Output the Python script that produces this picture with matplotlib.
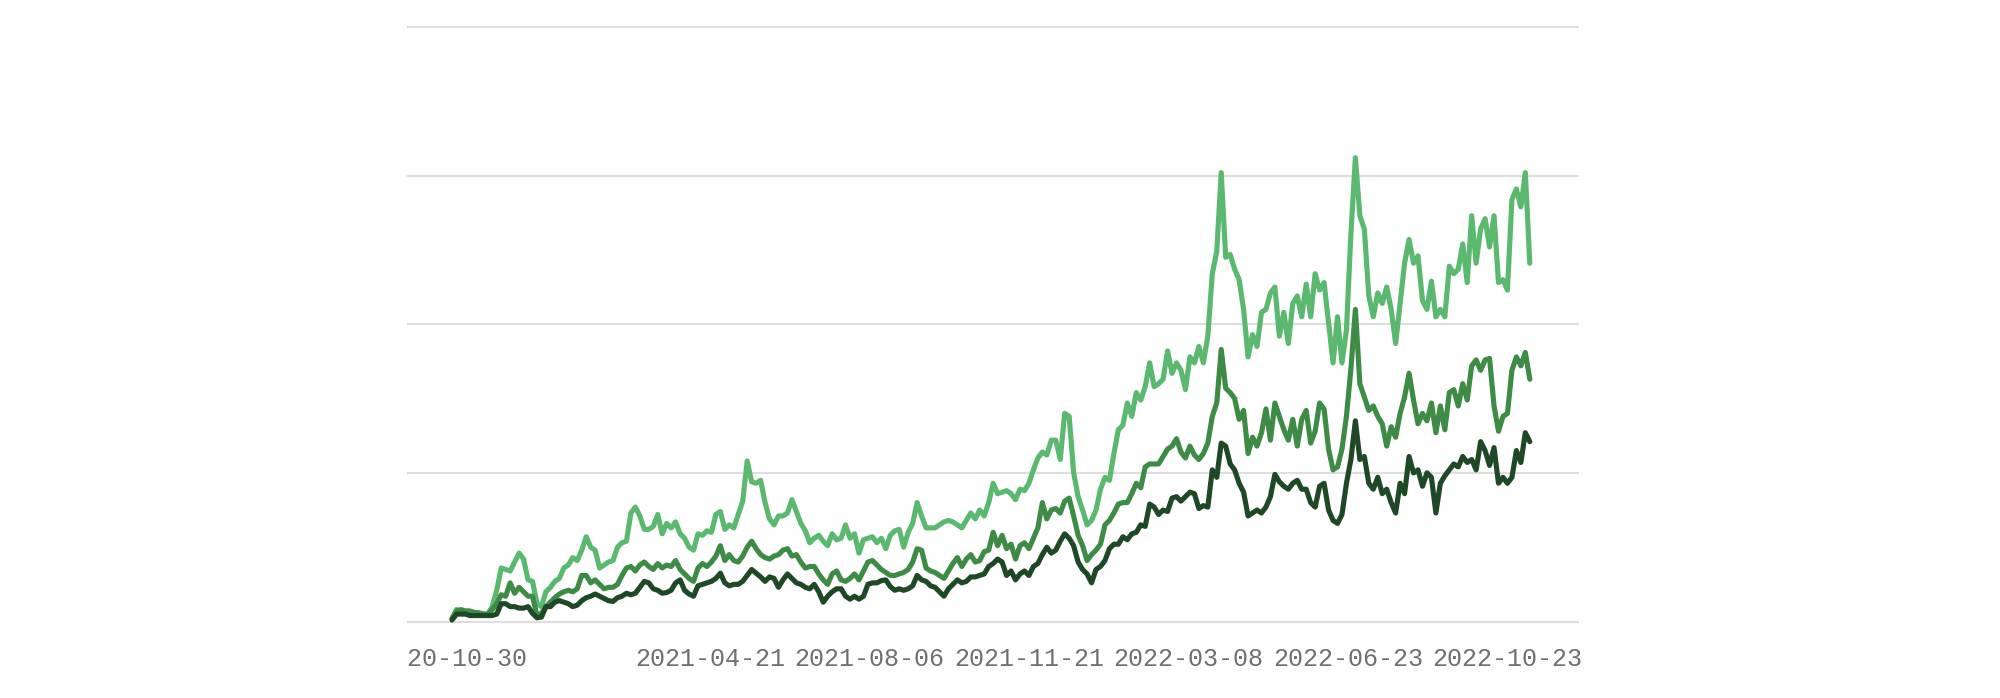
#import packages
import numpy as np
import pandas as pd
import matplotlib
matplotlib.use('Agg')
import matplotlib.pyplot as plt
import matplotlib.dates as mdates
from matplotlib.transforms import Bbox, TransformedBbox

#dates: one reading every 3 days from the first day, plus the last day
dates = list(pd.date_range('2020-10-30', periods=241, freq='3D')) + [pd.Timestamp('2022-10-23')]

#values (one gridline step = 1)
light = [0.02, 0.08, 0.07, 0.07, 0.07, 0.06, 0.06, 0.05, 0.05, 0.10,
         0.21, 0.36, 0.35, 0.34, 0.40, 0.46, 0.42, 0.28, 0.27, 0.12,
         0.10, 0.20, 0.23, 0.27, 0.29, 0.36, 0.38, 0.43, 0.41, 0.48,
         0.57, 0.50, 0.48, 0.36, 0.38, 0.40, 0.41, 0.50, 0.53, 0.54,
         0.73, 0.77, 0.71, 0.62, 0.62, 0.64, 0.72, 0.59, 0.66, 0.63,
         0.67, 0.59, 0.56, 0.50, 0.48, 0.59, 0.58, 0.61, 0.60, 0.72,
         0.74, 0.62, 0.65, 0.63, 0.72, 0.81, 1.08, 0.94, 0.93, 0.95,
         0.80, 0.69, 0.65, 0.71, 0.71, 0.73, 0.82, 0.74, 0.66, 0.61,
         0.53, 0.56, 0.58, 0.54, 0.51, 0.59, 0.55, 0.56, 0.65, 0.56,
         0.59, 0.46, 0.55, 0.56, 0.57, 0.53, 0.56, 0.49, 0.58, 0.61,
         0.62, 0.50, 0.60, 0.66, 0.80, 0.71, 0.63, 0.63, 0.63, 0.65,
         0.67, 0.68, 0.67, 0.65, 0.63, 0.68, 0.73, 0.69, 0.75, 0.71,
         0.80, 0.93, 0.86, 0.87, 0.88, 0.86, 0.82, 0.89, 0.88, 0.93,
         1.02, 1.10, 1.14, 1.12, 1.22, 1.22, 1.09, 1.40, 1.38, 1.00,
         0.84, 0.75, 0.65, 0.68, 0.75, 0.89, 0.97, 0.95, 1.13, 1.29,
         1.32, 1.47, 1.38, 1.54, 1.49, 1.58, 1.74, 1.58, 1.60, 1.63,
         1.82, 1.67, 1.74, 1.69, 1.56, 1.78, 1.74, 1.85, 1.74, 1.92,
         2.34, 2.49, 3.02, 2.45, 2.47, 2.37, 2.30, 2.10, 1.78, 1.93,
         1.85, 2.08, 2.10, 2.21, 2.25, 1.92, 2.08, 1.87, 2.14, 2.19,
         2.05, 2.27, 2.05, 2.34, 2.23, 2.28, 2.01, 1.74, 2.05, 1.74,
         1.96, 2.61, 3.12, 2.73, 2.64, 2.19, 2.05, 2.21, 2.14, 2.25,
         2.10, 1.87, 2.14, 2.41, 2.57, 2.41, 2.46, 2.16, 2.10, 2.29,
         2.05, 2.10, 2.05, 2.39, 2.34, 2.37, 2.54, 2.28, 2.73, 2.41,
         2.64, 2.71, 2.52, 2.73, 2.28, 2.30, 2.23, 2.84, 2.91, 2.79,
         3.02, 2.41]
mid = [0.02, 0.07, 0.08, 0.07, 0.07, 0.06, 0.055, 0.05, 0.05, 0.08,
       0.12, 0.18, 0.17, 0.26, 0.19, 0.23, 0.20, 0.17, 0.17, 0.04,
       0.055, 0.10, 0.13, 0.16, 0.185, 0.20, 0.21, 0.20, 0.22, 0.31,
       0.31, 0.26, 0.28, 0.25, 0.22, 0.23, 0.23, 0.25, 0.31, 0.36,
       0.37, 0.34, 0.38, 0.40, 0.37, 0.35, 0.39, 0.36, 0.38, 0.37,
       0.41, 0.35, 0.32, 0.29, 0.27, 0.36, 0.39, 0.37, 0.40, 0.44,
       0.51, 0.41, 0.45, 0.41, 0.40, 0.44, 0.50, 0.54, 0.49, 0.45,
       0.43, 0.42, 0.44, 0.45, 0.48, 0.49, 0.44, 0.45, 0.40, 0.36,
       0.37, 0.37, 0.32, 0.28, 0.25, 0.32, 0.34, 0.28, 0.27, 0.29,
       0.32, 0.28, 0.34, 0.40, 0.41, 0.38, 0.35, 0.33, 0.31, 0.31,
       0.32, 0.33, 0.35, 0.40, 0.49, 0.48, 0.36, 0.34, 0.33, 0.31,
       0.29, 0.34, 0.39, 0.43, 0.37, 0.42, 0.45, 0.40, 0.41, 0.47,
       0.48, 0.60, 0.51, 0.58, 0.49, 0.52, 0.42, 0.51, 0.53, 0.49,
       0.56, 0.63, 0.80, 0.69, 0.75, 0.76, 0.73, 0.81, 0.83, 0.71,
       0.58, 0.51, 0.41, 0.45, 0.48, 0.52, 0.65, 0.68, 0.73, 0.79,
       0.80, 0.80, 0.86, 0.93, 0.90, 1.04, 1.06, 1.06, 1.06, 1.11,
       1.16, 1.18, 1.23, 1.14, 1.10, 1.18, 1.12, 1.09, 1.13, 1.20,
       1.38, 1.47, 1.83, 1.57, 1.54, 1.50, 1.36, 1.42, 1.13, 1.24,
       1.18, 1.27, 1.43, 1.22, 1.47, 1.38, 1.29, 1.22, 1.36, 1.18,
       1.36, 1.42, 1.20, 1.28, 1.47, 1.43, 1.16, 1.02, 1.04, 1.16,
       1.38, 1.70, 2.10, 1.60, 1.51, 1.42, 1.45, 1.38, 1.33, 1.18,
       1.31, 1.24, 1.40, 1.51, 1.67, 1.49, 1.33, 1.40, 1.35, 1.47,
       1.27, 1.45, 1.29, 1.54, 1.56, 1.45, 1.60, 1.49, 1.72, 1.76,
       1.69, 1.76, 1.77, 1.45, 1.28, 1.38, 1.40, 1.69, 1.78, 1.72,
       1.81, 1.63]
dark = [0.01, 0.05, 0.05, 0.05, 0.04, 0.04, 0.04, 0.04, 0.04, 0.04,
        0.05, 0.12, 0.12, 0.10, 0.10, 0.09, 0.09, 0.10, 0.055, 0.025,
        0.03, 0.10, 0.10, 0.13, 0.14, 0.13, 0.12, 0.10, 0.11, 0.14,
        0.16, 0.17, 0.185, 0.17, 0.155, 0.14, 0.135, 0.16, 0.17, 0.19,
        0.18, 0.19, 0.23, 0.27, 0.26, 0.22, 0.21, 0.19, 0.195, 0.21,
        0.26, 0.28, 0.21, 0.185, 0.17, 0.24, 0.25, 0.26, 0.27, 0.29,
        0.325, 0.26, 0.24, 0.25, 0.25, 0.27, 0.31, 0.35, 0.325, 0.30,
        0.27, 0.30, 0.29, 0.23, 0.28, 0.32, 0.29, 0.26, 0.25, 0.23,
        0.22, 0.25, 0.20, 0.13, 0.17, 0.20, 0.22, 0.22, 0.17, 0.15,
        0.17, 0.15, 0.17, 0.25, 0.26, 0.26, 0.275, 0.28, 0.235, 0.21,
        0.22, 0.21, 0.22, 0.24, 0.31, 0.28, 0.27, 0.24, 0.23, 0.20,
        0.17, 0.22, 0.25, 0.28, 0.26, 0.27, 0.30, 0.30, 0.31, 0.32,
        0.37, 0.39, 0.42, 0.40, 0.31, 0.34, 0.28, 0.32, 0.34, 0.31,
        0.37, 0.39, 0.45, 0.50, 0.46, 0.48, 0.54, 0.59, 0.56, 0.51,
        0.40, 0.35, 0.32, 0.26, 0.35, 0.37, 0.41, 0.49, 0.52, 0.52,
        0.57, 0.55, 0.59, 0.60, 0.65, 0.64, 0.79, 0.77, 0.72, 0.75,
        0.74, 0.83, 0.84, 0.81, 0.84, 0.87, 0.86, 0.76, 0.78, 0.77,
        1.02, 0.97, 1.20, 1.18, 1.06, 1.02, 0.93, 0.87, 0.71, 0.73,
        0.75, 0.73, 0.77, 0.84, 0.99, 0.94, 0.91, 0.89, 0.93, 0.95,
        0.89, 0.89, 0.80, 0.77, 0.91, 0.93, 0.75, 0.68, 0.66, 0.72,
        0.93, 1.09, 1.35, 1.09, 1.11, 0.93, 0.89, 0.97, 0.86, 0.89,
        0.80, 0.73, 0.93, 0.86, 1.11, 1.00, 1.02, 0.91, 1.00, 0.97,
        0.73, 0.93, 0.98, 1.02, 1.06, 1.04, 1.11, 1.07, 1.09, 1.02,
        1.21, 1.15, 1.05, 1.17, 0.93, 0.97, 0.93, 0.97, 1.15, 1.07,
        1.27, 1.21]

tick_dates = ['2020-10-30', '2021-04-21', '2021-08-06', '2021-11-21', '2022-03-08', '2022-06-23']
last_label = '2022-10-23'

fig = plt.figure(figsize=(20, 6.98), dpi=100)
ax = fig.add_axes([0.2035, 0.0883, 0.586, 0.8944])

#lines, lightest first so the dark one sits on top
ax.plot(dates, light, color='#5bb86f', lw=3.7, solid_joinstyle='round', solid_capstyle='round')
ax.plot(dates, mid, color='#3e8b46', lw=3.7, solid_joinstyle='round', solid_capstyle='round')
ax.plot(dates, dark, color='#1e4826', lw=3.7, solid_joinstyle='round', solid_capstyle='round')

#axis limits
start = mdates.date2num(pd.Timestamp('2020-10-30'))
ax.set_xlim(start - 30.2, start + 756.0)
ax.set_ylim(-0.1, 4.1)

#horizontal gridlines only
ax.set_yticks([0, 1, 2, 3, 4])
ax.yaxis.grid(True, color='#dedede', lw=1.5)
ax.set_axisbelow(True)
ax.tick_params(axis='y', length=0, labelleft=False)
for s in ax.spines.values():
    s.set_visible(False)

#date labels
ax.set_xticks([mdates.date2num(pd.Timestamp(d)) for d in tick_dates], tick_dates)
ax.tick_params(axis='x', length=0, pad=8, labelsize=18, labelcolor='#6f6f6f')
for lab in ax.get_xticklabels():
    lab.set_fontfamily('Liberation Mono')
#first label is cut off at the left edge of the plot
first = ax.get_xticklabels()[0]
first.set_clip_box(TransformedBbox(Bbox([[0, -1], [1.1, 1]]), ax.transAxes))
first.set_clip_on(True)
#last label pushed inside the right edge
ax.text(1.0026, -0.0178, last_label, transform=ax.transAxes, ha='right', va='top',
        fontsize=18, color='#6f6f6f', family='Liberation Mono')

fig.savefig('out.png', dpi=100)
